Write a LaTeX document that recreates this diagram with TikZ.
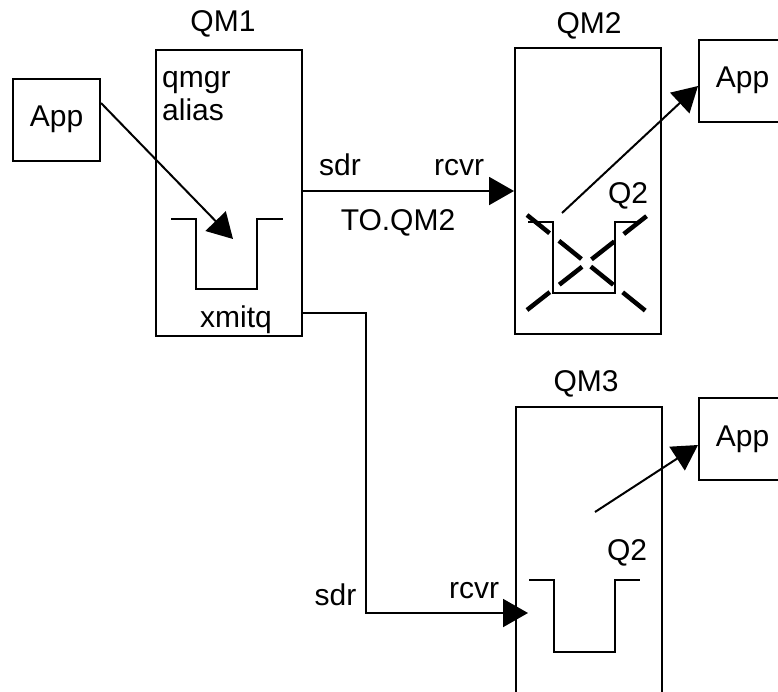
\documentclass[tikz,border=0pt]{standalone}
\usepackage{fontspec}
\setmainfont{Liberation Sans}
\usetikzlibrary{arrows.meta, positioning}
\tikzset{
  qmbox/.style={rectangle, draw, line width=2pt, minimum width=146pt,
    minimum height=286pt, inner sep=0pt},
  appbox/.style={rectangle, draw, line width=2pt, minimum width=87pt,
    minimum height=82pt, inner sep=0pt, font=\fontsize{30}{33}\selectfont},
  lbl/.style={inner sep=0pt, anchor=base, font=\fontsize{30}{33}\selectfont},
  queue/.style={line width=2pt},
  arr/.style={-{Triangle[length=25pt, width=28pt]}, line width=2pt},
  cross/.style={line width=4.5pt, dash pattern=on 29pt off 12pt},
}
\begin{document}
\begin{tikzpicture}[x=1pt, y=-1pt]
  \useasboundingbox (0,0) rectangle (778,691);
  % queue managers and applications
  \node[qmbox] (qm1) at (229,192.5) {};
  \node[qmbox] (qm2) at (588,191) {};
  \node[qmbox] (qm3) at (588.5,550) {};
  \node[lbl] (qm1name) at ([xshift=-6pt, yshift=17pt]qm1.north) {QM1};
  \node[lbl] (qm2name) at ([xshift=1pt, yshift=14pt]qm2.north) {QM2};
  \node[lbl] (qm3name) at ([xshift=-2.5pt, yshift=15pt]qm3.north) {QM3};
  \node[appbox] (app1) at (56.5,119.5) {App};
  \node[appbox] (app2) at (742.5,80.5) {App};
  \node[appbox] (app3) at (742.5,439) {App};

  % queues
  \coordinate (q1) at (171,219);
  \coordinate (q2) at (528,222);
  \coordinate (q3) at (529,580);
  \draw[queue] (q1) -- ++(25,0) -- ++(0,70) -- ++(61,0) -- ++(0,-70) -- ++(26,0);
  \draw[queue] (q2) -- ++(25,0) -- ++(0,71) -- ++(62,0) -- ++(0,-71) -- ++(25,0);
  \draw[queue] (q3) -- ++(25,0) -- ++(0,72) -- ++(61,0) -- ++(0,-72) -- ++(25,0);
  \draw[cross] (527,215) -- (647,312);
  \draw[cross] (527,310) -- (648,215);

  % texts
  \node[lbl, anchor=base west, align=left] (alias) at (162,120) {qmgr\\alias};
  \node[lbl] (xmitq) at (236,327) {xmitq};
  \node[lbl] (sdr1) at (340,175) {sdr};
  \node[lbl] (rcvr1) at (459,175) {rcvr};
  \node[lbl] (chl) at (398,230) {TO.QM2};
  \node[lbl] (q2a) at (628,203) {Q2};
  \node[lbl] (q2b) at (627,560) {Q2};
  \node[lbl] (sdr2) at (335.5,605) {sdr};
  \node[lbl] (rcvr2) at (474,598) {rcvr};

  \coordinate (q1in) at (233,239);
  \coordinate (q2out) at (562,213);
  \coordinate (q3out) at (595,512);
  \coordinate (bend) at (366,613);
  \coordinate (rcv3) at (528,613);

  \draw[arr] ([yshift=16.5pt]app1.east) -- (q1in);
  \draw[arr] (qm1.east |- qm2.west) -- (qm2.west);
  \draw[arr] ([yshift=24pt]qm1.south east) -| (bend) -- (rcv3);
  \draw[arr] (q2out) -- ([yshift=-5.5pt]app2.west);
  \draw[arr] (q3out) -- ([yshift=-6pt]app3.west);
\end{tikzpicture}
\end{document}
